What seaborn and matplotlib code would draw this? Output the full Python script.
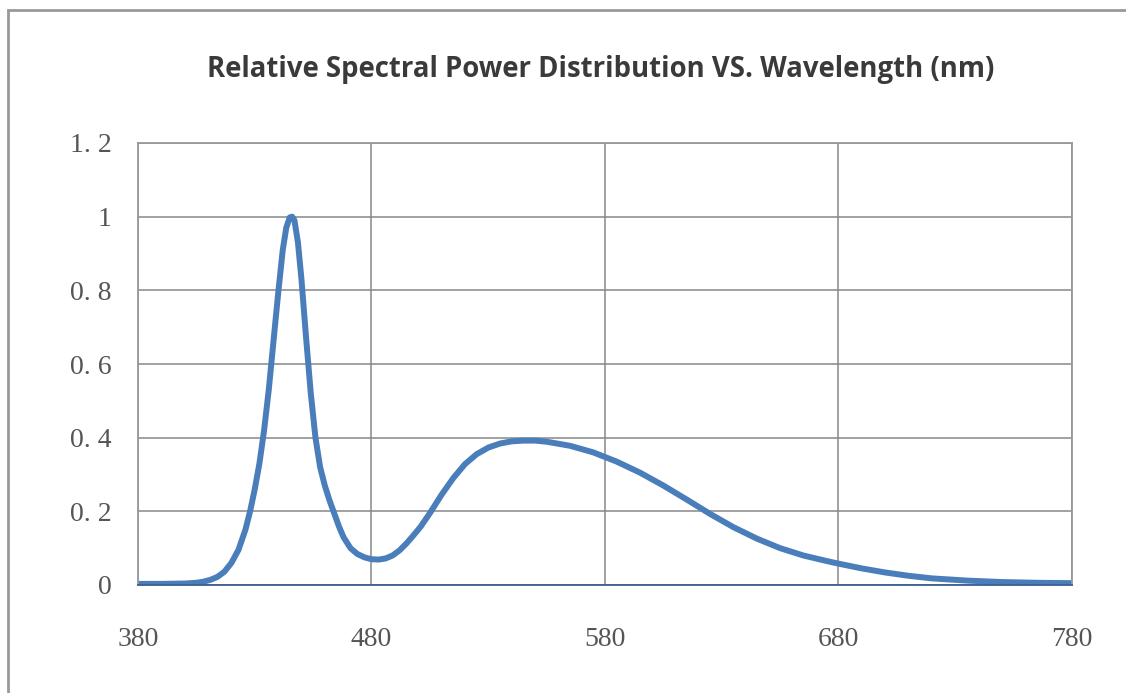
import matplotlib
matplotlib.use("Agg")
import pandas as pd
import seaborn as sns
from matplotlib import pyplot as plt
from matplotlib.patches import Rectangle

# values
wavelength = [380, 390, 400, 405, 408, 411, 414, 417, 420, 423, 426, 428, 430,
              432, 434, 436, 438, 440, 442, 443.5, 445, 446, 447, 448.5, 450,
              452, 454, 456, 458, 460, 462, 464, 466, 468, 471, 474, 477, 480,
              483, 486, 489, 492, 495, 498, 501, 505, 510, 515, 520, 525, 530,
              535, 540, 545, 550, 555, 565, 575, 585, 595, 605, 615, 625, 635,
              645, 655, 665, 675, 680, 690, 700, 710, 720, 735, 750, 765, 780]
power = [0.003, 0.003, 0.004, 0.006, 0.009, 0.014, 0.022, 0.036, 0.06, 0.095,
         0.15, 0.2, 0.26, 0.33, 0.42, 0.53, 0.66, 0.79, 0.91, 0.97, 0.998,
         1.0, 0.99, 0.93, 0.83, 0.67, 0.52, 0.4, 0.32, 0.27, 0.23, 0.195,
         0.16, 0.13, 0.1, 0.084, 0.075, 0.07, 0.069, 0.072, 0.08, 0.094, 0.113,
         0.135, 0.158, 0.195, 0.245, 0.29, 0.328, 0.355, 0.373, 0.384, 0.39,
         0.392, 0.392, 0.389, 0.378, 0.36, 0.335, 0.305, 0.27, 0.232, 0.193,
         0.157, 0.126, 0.1, 0.08, 0.065, 0.058, 0.045, 0.034, 0.025, 0.018,
         0.012, 0.008, 0.006, 0.005]

x_ticks = [380, 480, 580, 680, 780]
y_ticks = [0, 0.2, 0.4, 0.6, 0.8, 1.0, 1.2]
y_labels = ["0", "0. 2", "0. 4", "0. 6", "0. 8", "1", "1. 2"]

title = "Relative Spectral Power Distribution VS. Wavelength (nm)"

df = pd.DataFrame({"Wavelength": wavelength, "Power": power})

sns.set_style("white")
W, H = 1126, 693
fig = plt.figure(figsize=(W / 100, H / 100), dpi=100)
ax = fig.add_axes([138 / W, 1 - 585 / H, (1072 - 138) / W, (585 - 143) / H])

sns.lineplot(data=df, x="Wavelength", y="Power", ax=ax, color="#4a7ebb",
             linewidth=4.3, solid_capstyle="butt", solid_joinstyle="round")

ax.set_xlim(380, 780)
ax.set_ylim(0, 1.2)
ax.set_xticks(x_ticks)
ax.set_yticks(y_ticks)
ax.set_yticklabels(y_labels)
ax.set_xlabel("")
ax.set_ylabel("")
ax.grid(True, color="#888888", linewidth=1.1)
ax.set_axisbelow(True)
for side in ["left", "top", "right"]:
    ax.spines[side].set_color("#999999")
    ax.spines[side].set_linewidth(1.3)
ax.spines["bottom"].set_color("#3b5e91")
ax.spines["bottom"].set_linewidth(1.3)
ax.tick_params(axis="both", length=0, labelcolor="#555555")
ax.tick_params(axis="x", pad=30)
ax.tick_params(axis="y", pad=19)
for lab in ax.get_xticklabels() + ax.get_yticklabels():
    lab.set_family("Liberation Serif")
    lab.set_fontsize(20)

fig.text(601 / W, 1 - 70 / H, title, ha="center", va="center",
         fontsize=19.8, fontweight="bold", family="Open Sans", color="#3a3a3a")

# outer chart border
fig.patches.append(Rectangle((8 / W, -0.1), 1.2, 1 - 10 / H + 0.1,
                             transform=fig.transFigure, fill=False,
                             edgecolor="#999999", linewidth=2))

fig.savefig("out.png", dpi=100)
